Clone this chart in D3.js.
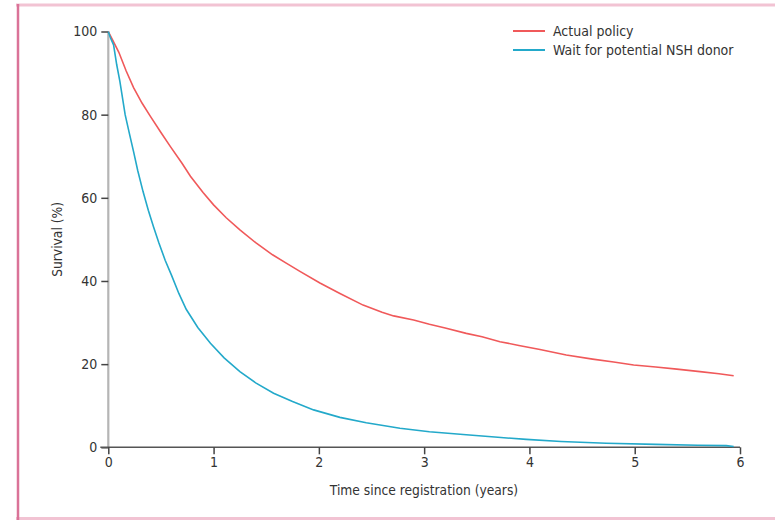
<!DOCTYPE html>
<html>
<head>
<meta charset="utf-8">
<script src="https://cdn.jsdelivr.net/npm/d3@7"></script>
<style>
  body { margin: 0; background: #fff; }
  svg { display: block; }
  .lbl { font-family: "DejaVu Sans Condensed", "Liberation Sans Narrow", sans-serif; fill: #333; }
</style>
</head>
<body>
<div class="graph"></div>
<script>
// survival (years, %)
const actualYears = [0, 0.05, 0.1, 0.17, 0.24, 0.32, 0.4, 0.5, 0.59, 0.7, 0.78, 0.9, 1.0, 1.12, 1.25, 1.4, 1.56, 1.69, 1.82, 2.01, 2.2, 2.42, 2.6, 2.71, 2.9, 3.05, 3.2, 3.4, 3.55, 3.72, 3.9, 4.1, 4.35, 4.6, 4.8, 4.99, 5.2, 5.4, 5.62, 5.8, 5.94];
const actualSurv = [100, 97.5, 95, 90.5, 86.5, 82.8, 79.6, 75.7, 72.3, 68.3, 65.2, 61.3, 58.3, 55.2, 52.3, 49.2, 46.3, 44.3, 42.3, 39.5, 37, 34.2, 32.5, 31.6, 30.6, 29.6, 28.7, 27.4, 26.6, 25.4, 24.5, 23.5, 22.2, 21.2, 20.5, 19.8, 19.3, 18.8, 18.2, 17.7, 17.2];
const waitYears = [0, 0.02, 0.05, 0.08, 0.11, 0.16, 0.2, 0.24, 0.28, 0.33, 0.38, 0.43, 0.48, 0.54, 0.6, 0.67, 0.74, 0.85, 0.97, 1.1, 1.25, 1.4, 1.57, 1.75, 1.95, 2.2, 2.45, 2.77, 3.05, 3.4, 3.7, 3.97, 4.3, 4.73, 5.2, 5.6, 5.87, 5.94];
const waitSurv = [100, 98.5, 96.8, 92, 88, 80, 75.5, 71.1, 66.5, 61.5, 57, 53, 49.2, 45, 41.4, 37, 33.2, 28.8, 25, 21.5, 18.2, 15.5, 13, 11, 9.0, 7.2, 5.9, 4.6, 3.75, 3.0, 2.4, 1.9, 1.4, 0.96, 0.7, 0.5, 0.4, 0.2];

const seriesNames = ["Actual policy", "Wait for potential NSH donor"];
const seriesColors = ["#f0595a", "#23a9ca"];
const xTicks = [0, 1, 2, 3, 4, 5, 6];
const yTicks = [0, 20, 40, 60, 80, 100];

let W = 775, H = 522;
let margin = {top: 31.5, right: 35, bottom: 74.7, left: 108.3};

let svg = d3.select(".graph").append("svg")
    .attr("width", W)
    .attr("height", H);

// pink frame (top, left, bottom)
svg.append("line").attr("x1", 16).attr("x2", W).attr("y1", 5).attr("y2", 5)
    .attr("stroke", "#f2c3d3").attr("stroke-width", 3);
svg.append("line").attr("x1", W).attr("x2", 16).attr("y1", 518.5).attr("y2", 518.5)
    .attr("stroke", "#f2c3d3").attr("stroke-width", 3);
svg.append("line").attr("x1", 18).attr("x2", 18).attr("y1", 4).attr("y2", 520)
    .attr("stroke", "#da7398").attr("stroke-width", 2.5);

let x = d3.scaleLinear().domain([0, 6]).range([margin.left, W - margin.right]);
let y = d3.scaleLinear().domain([0, 100]).range([H - margin.bottom, margin.top]);

// Y axis
let gy = svg.append("g")
    .attr("transform", "translate(" + margin.left + ",0)")
    .call(d3.axisLeft(y).tickValues(yTicks).tickSize(7).tickPadding(4));
gy.select(".domain").attr("stroke", "#b5b5b5").attr("stroke-width", 2.2)
    .attr("d", "M0," + y(100) + "V" + y(0));
gy.selectAll(".tick line").attr("stroke", "#444").attr("stroke-width", 1.5);
gy.selectAll(".tick text").attr("class", "lbl").style("font-size", "14px");

// X axis
let gx = svg.append("g")
    .attr("transform", "translate(0," + y(0) + ")")
    .call(d3.axisBottom(x).tickValues(xTicks).tickFormat(d3.format("d")).tickSize(7).tickPadding(3));
gx.select(".domain").attr("stroke", "#555").attr("stroke-width", 1.6)
    .attr("d", "M" + (margin.left - 8) + ",0H" + x(6));
gx.selectAll(".tick line").attr("stroke", "#444").attr("stroke-width", 1.5);
gx.selectAll(".tick text").attr("class", "lbl").style("font-size", "14px");

// axis titles
svg.append("text").attr("class", "lbl")
    .attr("x", 424).attr("y", 495)
    .attr("text-anchor", "middle")
    .style("font-size", "13.7px")
    .text("Time since registration (years)");
svg.append("text").attr("class", "lbl")
    .attr("transform", "translate(62," + ((y(0) + y(100)) / 2) + ") rotate(-90)")
    .attr("text-anchor", "middle")
    .style("font-size", "13.7px")
    .text("Survival (%)");

// curves
let line = d3.line()
    .x(d => x(d[0]))
    .y(d => y(d[1]));

let curves = [
    d3.zip(actualYears, actualSurv),
    d3.zip(waitYears, waitSurv)
];

svg.selectAll(".curve")
    .data(curves)
    .enter().append("path")
    .attr("class", "curve")
    .attr("d", line)
    .attr("fill", "none")
    .attr("stroke", (d, i) => seriesColors[i])
    .attr("stroke-width", 1.6);

// legend
let legend = svg.selectAll(".leg")
    .data(seriesNames)
    .enter().append("g")
    .attr("class", "leg")
    .attr("transform", (d, i) => "translate(513," + (31 + i * 19) + ")");
legend.append("line")
    .attr("x1", 0).attr("x2", 32)
    .attr("stroke", (d, i) => seriesColors[i])
    .attr("stroke-width", 2);
legend.append("text")
    .attr("class", "lbl")
    .attr("x", 40).attr("y", 5)
    .style("font-size", "14px")
    .text(d => d);
</script>
</body>
</html>
